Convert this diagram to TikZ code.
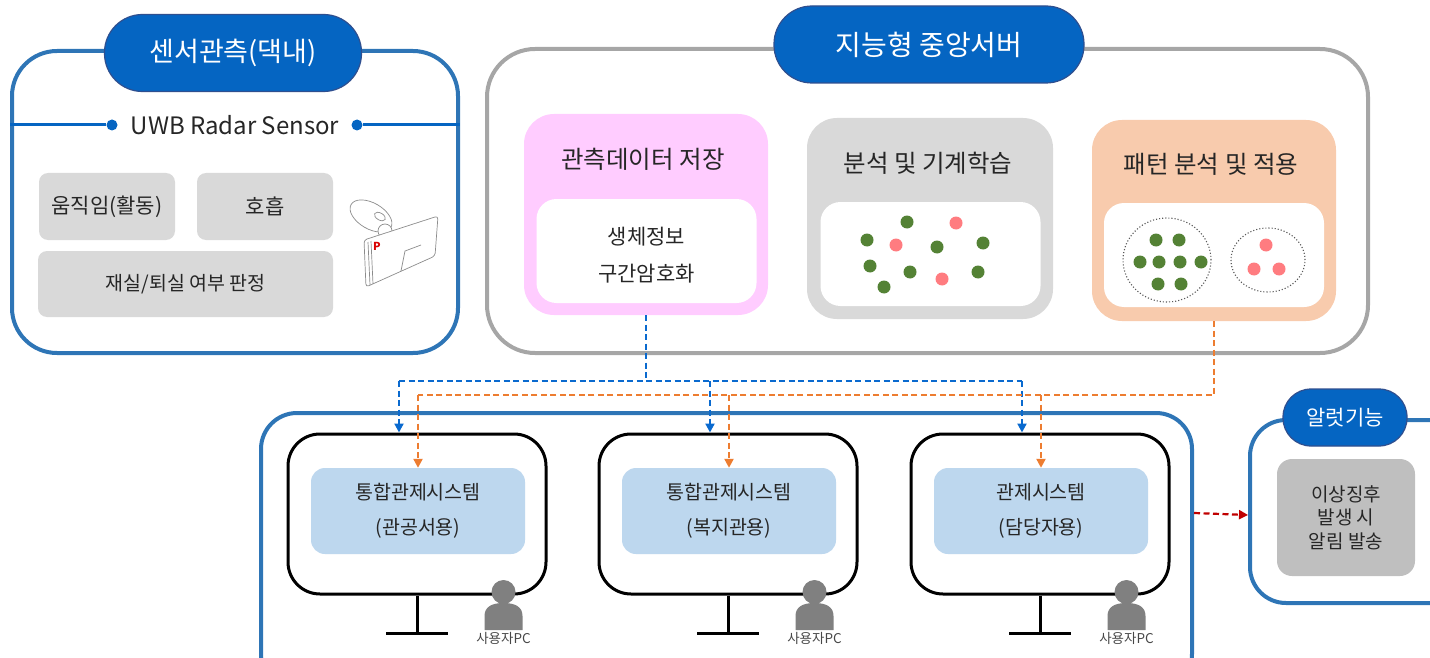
\documentclass[tikz,border=0pt]{standalone}
\usepackage{fontspec}
\setmainfont{Noto Sans CJK KR}
\usetikzlibrary{arrows.meta}

\definecolor{panelblue}{HTML}{2E75B6}
\definecolor{pillblue}{HTML}{0565C2}
\definecolor{pilledge}{HTML}{2F4F8F}
\definecolor{servergray}{HTML}{A6A6A6}
\definecolor{boxgray}{HTML}{D9D9D9}
\definecolor{pinkfill}{HTML}{FFCCFF}
\definecolor{orangefill}{HTML}{F8CBAD}
\definecolor{dotgreen}{HTML}{548235}
\definecolor{dotpink}{HTML}{FF7C80}
\definecolor{lightblue}{HTML}{BDD7EE}
\definecolor{alertgray}{HTML}{BFBFBF}
\definecolor{usergray}{HTML}{808080}
\definecolor{linkblue}{HTML}{0A6ACF}
\definecolor{linkorange}{HTML}{ED7D31}
\definecolor{linkred}{HTML}{C00000}
\definecolor{textdark}{HTML}{262626}

\newcommand{\fs}[1]{\fontsize{#1}{#1}\selectfont}

\tikzset{
  panel/.style={draw=panelblue, line width=4pt, rounded corners=45pt},
  pill/.style={fill=pillblue, draw=pilledge, line width=1.2pt, text=white},
  sensebox/.style={fill=boxgray, rounded corners=9pt, text=textdark, font=\fs{21}},
  cardbox/.style={rounded corners=30pt},
  cardtitle/.style={text=textdark, font=\fs{24.5}},
  cardtext/.style={text=textdark, font=\fs{21}},
  innerbox/.style={fill=white, rounded corners=20pt},
  monitor/.style={draw=black, line width=3pt, rounded corners=32pt, fill=white},
  screenbox/.style={fill=lightblue, rounded corners=14pt, text=textdark,
    align=center, font=\fontsize{19.5}{35}\selectfont},
  standline/.style={draw=black, line width=3pt},
  gdot/.style={fill=dotgreen},
  pdot/.style={fill=dotpink},
  cluster/.style={draw=black!65, dotted, line width=1.1pt},
  bluedash/.style={draw=linkblue, line width=2.2pt, dash pattern=on 6pt off 3.5pt},
  orangedash/.style={draw=linkorange, line width=2.2pt, dash pattern=on 6pt off 3.5pt},
  reddash/.style={draw=linkred, line width=2.2pt, dash pattern=on 6pt off 3.5pt},
  tip/.style={-{Triangle[width=9pt,length=9pt]}},
  uwbdot/.style={circle, fill=pillblue, inner sep=0pt, minimum size=11pt},
  userpc/.pic={
    \fill[usergray] (0,0) circle (12pt);
    \fill[usergray] (-19,38) -- (-19,24) .. controls (-19,15) and (-12,11) .. (0,11)
      .. controls (12,11) and (19,15) .. (19,24) -- (19,38) -- cycle;
    \node[text=textdark!85, font=\fs{13.5}, inner sep=0pt] at (0,46) {사용자PC};
  }
}

\begin{document}
\begin{tikzpicture}[x=1pt, y=-1pt]
\useasboundingbox (0,0) rectangle (1430,658);

% ---------- sensor observation (in home) ----------
\node[panel, minimum width=446pt, minimum height=302pt] (sensor) at (235,202) {};
\node[pill, minimum width=257pt, minimum height=77pt, rounded corners=38pt,
      font=\fs{27}] (sensortitle) at (233,53) {센서관측(댁내)};
\node[text=textdark, font=\fs{24}] (uwb) at (235,125) {UWB Radar Sensor};
\node[uwbdot] (uwbL) at (112,125) {};
\node[uwbdot] (uwbR) at (357,125) {};
\draw[pillblue, line width=3pt] (sensor.west |- uwbL) -- (uwbL);
\draw[pillblue, line width=3pt] (uwbR) -- (sensor.east |- uwbR);

\node[sensebox, minimum width=136pt, minimum height=67pt] (motion) at (107,206.5) {움직임(활동)};
\node[sensebox, minimum width=136pt, minimum height=67pt] (breath) at (265,206.5) {호흡};
\node[sensebox, minimum width=295pt, minimum height=66pt, font=\fs{19.5}] (presence) at (185.5,284) {재실/퇴실 여부 판정};

% radar device sketch: suction mount and tilted body
\begin{scope}[draw=black!45, line width=0.7pt]
  \draw[fill=white, rotate around={-30:(371,216)}] (371,216) ellipse (23pt and 13pt);
  \draw[fill=white, rotate around={-30:(371,216)}] (379,212) ellipse (6pt and 3.5pt);
  \draw[fill=white] (385,231) circle (7pt);
  \draw[fill=white, rounded corners=3pt] (364,240) -- (438,216) -- (435,256) -- (366,287) -- cycle;
  \draw (368,242) -- (370,285);
  \draw (371,241) -- (373,284);
  \draw (401,271) -- (405,251) -- (421,245);
\end{scope}
\node[text=red!85!black, font=\bfseries\fs{11}, inner sep=0pt] (logo) at (377,246) {P};

% ---------- intelligent central server ----------
\node[draw=servergray, line width=4pt, rounded corners=48pt,
      minimum width=881pt, minimum height=304pt] (server) at (927.5,201) {};
\node[pill, minimum width=310pt, minimum height=77pt, rounded corners=38pt,
      font=\fs{28}] (servertitle) at (929,44.5) {지능형 중앙서버};

% data storage card
\node[cardbox, fill=pinkfill, minimum width=244pt, minimum height=201pt] (store) at (646,214.5) {};
\node[cardtitle] (storetitle) at (643,159) {관측데이터 저장};
\node[innerbox, minimum width=220pt, minimum height=104pt] (storein) at (646.5,251) {};
\node[cardtext] (bio) at (646.5,237) {생체정보};
\node[cardtext] (enc) at (646.5,274) {구간암호화};

% analysis / machine learning card
\node[cardbox, fill=boxgray, minimum width=246pt, minimum height=201pt] (learn) at (930,218.5) {};
\node[cardtitle] (learntitle) at (928,163) {분석 및 기계학습};
\node[innerbox, minimum width=220pt, minimum height=104pt] (learnin) at (930.5,254) {};
\foreach \p in {(907,222),(867,240),(937,247),(983,243),(870,266),(910,272),(978,272),(884,287)}
  \fill[gdot] \p circle (6.5pt);
\foreach \p in {(956,223),(896,245),(942,279)}
  \fill[pdot] \p circle (6.5pt);

% pattern analysis card
\node[cardbox, fill=orangefill, minimum width=244pt, minimum height=201pt] (pattern) at (1214,220.5) {};
\node[cardtitle] (patterntitle) at (1211,164) {패턴 분석 및 적용};
\node[innerbox, minimum width=220pt, minimum height=104pt] (patternin) at (1214,255) {};
\draw[cluster] (1167,260) ellipse (44pt and 42pt);
\draw[cluster] (1268,260) ellipse (37pt and 32pt);
\foreach \p in {(1156,240),(1179,240),(1140,262),(1159,262),(1180,262),(1201,262),(1158,284),(1181,284)}
  \fill[gdot] \p circle (6.5pt);
\foreach \p in {(1266,245),(1254,269),(1279,269)}
  \fill[pdot] \p circle (6.5pt);

% ---------- control systems (user PCs) ----------
\node[panel, rounded corners=36pt, minimum width=931pt, minimum height=277pt] (control) at (726.5,551.5) {};

\foreach \n/\cx/\la/\lb in {1/417/통합관제시스템/(관공서용), 2/728/통합관제시스템/(복지관용), 3/1040/관제시스템/(담당자용)} {
  \node[monitor, minimum width=258pt, minimum height=160pt] (mon\n) at (\cx,514) {};
  \node[screenbox, minimum width=214pt, minimum height=86pt] (scr\n) at (\cx+1,511) {\la\\\lb};
  \coordinate (base\n) at (\cx,633);
  \draw[standline] (mon\n.south) -- (base\n);
  \draw[standline] ([xshift=-31pt]base\n) -- ([xshift=31pt]base\n);
  \pic at ([xshift=-44pt]mon\n.east |- 0,592) {userpc};
}

% ---------- alert function ----------
\node[panel, rounded corners=36pt, minimum width=220pt, minimum height=183pt] (alert) at (1360,511.5) {};
\node[pill, minimum width=124pt, minimum height=57pt, rounded corners=28pt,
      font=\fs{21}] (alerttitle) at (1345,417.5) {알럿기능};
\node[fill=alertgray, rounded corners=15pt, minimum width=138pt, minimum height=117pt,
      text=textdark, align=center, font=\fontsize{19}{23.5}\selectfont] (alertbox) at (1346,517.5)
      {이상징후\\발생 시\\알림 발송};

% ---------- data links ----------
\coordinate (bj) at (store.south |- 0,381);
\coordinate (bL) at ([xshift=-18pt]mon1.north |- bj);
\coordinate (bM) at ([xshift=-18pt]mon2.north |- bj);
\coordinate (bR) at ([xshift=-18pt]mon3.north |- bj);
\draw[bluedash] (store.south) -- (bj);
\draw[bluedash] (bL) -- (bR);
\draw[bluedash, tip] (bL) -- ([xshift=-18pt]mon1.north);
\draw[bluedash, tip] (bM) -- ([xshift=-18pt]mon2.north);
\draw[bluedash, tip] (bR) -- ([xshift=-18pt]mon3.north);

\coordinate (oj) at (pattern.south |- 0,395);
\coordinate (oL) at (scr1.north |- oj);
\coordinate (oM) at (scr2.north |- oj);
\coordinate (oR) at (scr3.north |- oj);
\draw[orangedash] (pattern.south) -- (oj) -- (oL);
\draw[orangedash, tip] (oL) -- (scr1.north);
\draw[orangedash, tip] (oM) -- (scr2.north);
\draw[orangedash, tip] (oR) -- (scr3.north);

\draw[reddash, tip] (control.east |- 0,513) -- (alert.west |- 0,515);

\end{tikzpicture}
\end{document}
